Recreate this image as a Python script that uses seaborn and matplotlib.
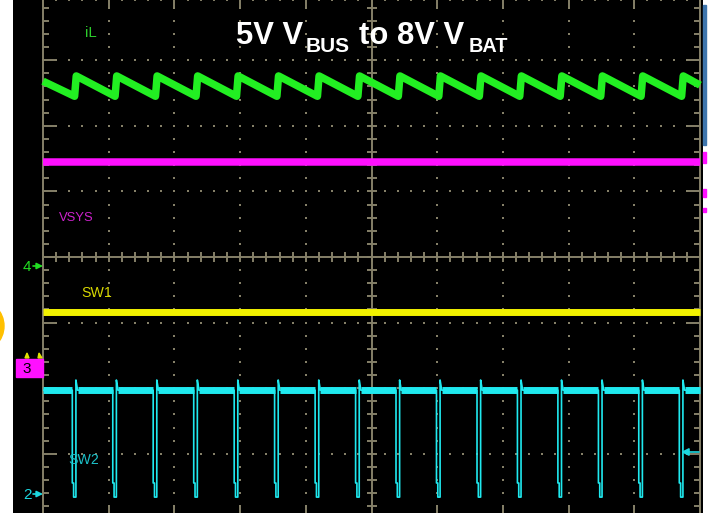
import numpy as np
import pandas as pd
import matplotlib
matplotlib.use("Agg")
import matplotlib.pyplot as plt
import seaborn as sns
from matplotlib.patches import Rectangle, Ellipse, Polygon

# ---------------- data (oscilloscope screen units: x 0..10 div, y -4..4 div) ----------------
# SW2 switching instants (start of each low pulse), time in divisions
sw_edges = [0.446, 1.062, 1.677, 2.294, 2.910, 3.525, 4.142, 4.758,
            5.373, 5.989, 6.606, 7.221, 7.837, 8.454, 9.068, 9.685]
trace_start, trace_end = 0.0, 10.0

# iL (green) sawtooth levels, divisions
il_start, il_valley, il_peak, il_end = 2.68, 2.45, 2.76, 2.62
# flat traces
vsys_level = 1.448
sw1_level = -0.838
# SW2 (cyan) levels
sw2_high, sw2_step, sw2_low, sw2_overshoot = -2.03, -3.445, -3.66, -1.875

channel_labels = ["iL", "VSYS", "SW1", "SW2"]
title_parts = ["5V V", "BUS", "to 8V V", "BAT"]

# ---------------- build trace tables ----------------
il_t, il_v = [trace_start], [il_start]
for e in sw_edges:
    il_t += [e + 0.035, e + 0.06]
    il_v += [il_valley, il_peak]
il_t.append(trace_end); il_v.append(il_end)
df_il = pd.DataFrame({"t": il_t, "v": il_v})

df_vsys = pd.DataFrame({"t": [trace_start, trace_end], "v": [vsys_level, vsys_level]})
df_sw1 = pd.DataFrame({"t": [trace_start, trace_end], "v": [sw1_level, sw1_level]})

sw2_t, sw2_v = [trace_start], [sw2_high]
for e in sw_edges:
    sw2_t += [e, e, e + 0.02, e + 0.02, e + 0.055, e + 0.055, e + 0.08]
    sw2_v += [sw2_high, sw2_step, sw2_step, sw2_low, sw2_low, sw2_overshoot, sw2_high]
sw2_t.append(trace_end); sw2_v.append(sw2_high)
df_sw2 = pd.DataFrame({"t": sw2_t, "v": sw2_v})

# thick noisy band of SW2 high level: segments between pulses
bt, bv, bu = [], [], []
starts = [trace_start] + [e + 0.08 for e in sw_edges]
ends = list(sw_edges) + [trace_end]
for i, (a, b) in enumerate(zip(starts, ends)):
    bt += [a, b]; bv += [sw2_high, sw2_high]; bu += [i, i]
df_sw2_band = pd.DataFrame({"t": bt, "v": bv, "seg": bu})

# ---------------- figure ----------------
W, H = 711, 513
fig = plt.figure(figsize=(W / 100, H / 100), dpi=100, facecolor="white")
ax_left, ax_right = 13, 703
ax = fig.add_axes([ax_left / W, 0, (ax_right - ax_left) / W, 1])
ax.set_facecolor("black")
px_per_x, px_per_y = 65.7, 65.6
x0_px, y0_px = 43, 257
ax.set_xlim((ax_left - x0_px) / px_per_x, (ax_right - x0_px) / px_per_x)
ax.set_ylim((y0_px - H) / px_per_y, y0_px / px_per_y)
for s in ax.spines.values():
    s.set_visible(False)
ax.set_xticks([]); ax.set_yticks([])

# ---------------- graticule ----------------
gcol = "#858068"
sub = np.arange(-20, 21) / 5.0
subx = np.arange(0, 51) / 5.0
lw_g = 1.4
ax.vlines([0, 10], -4, 4, color=gcol, lw=lw_g, zorder=1)
maj_y = np.isclose(sub % 1, 0)
len_y = np.where(maj_y, 14 / px_per_x, 6 / px_per_x)
ax.hlines(sub, 0, len_y, color=gcol, lw=lw_g, zorder=1)
ax.hlines(sub, 10 - len_y, 10, color=gcol, lw=lw_g, zorder=1)
maj_x = np.isclose(subx % 1, 0)
len_x = np.where(maj_x, 12 / px_per_y, 6 / px_per_y)
ax.vlines(subx, 4 - len_x, 4, color=gcol, lw=lw_g, zorder=1)
ax.vlines(subx, -4, -4 + len_x, color=gcol, lw=lw_g, zorder=1)
# centre cross
ax.vlines(5, -4, 4, color=gcol, lw=lw_g, zorder=1)
ax.hlines(0, 0, 10, color=gcol, lw=lw_g, zorder=1)
ax.hlines(sub, 5 - 5 / px_per_x, 5 + 5 / px_per_x, color=gcol, lw=lw_g, zorder=1)
ax.vlines(subx, -5 / px_per_y, 5 / px_per_y, color=gcol, lw=lw_g, zorder=1)
# dotted grid
dx, dy = [], []
for gx in [1, 2, 3, 4, 6, 7, 8, 9]:
    dx += [gx] * len(sub); dy += list(sub)
for gy in [-3, -2, -1, 1, 2, 3]:
    dx += list(subx); dy += [gy] * len(subx)
ax.scatter(dx, dy, s=2.0, marker="s", color=gcol, linewidths=0, zorder=1)

# ---------------- traces ----------------
c_il, c_vsys, c_sw1, c_sw2 = "#22ef22", "#ff10ff", "#f2f200", "#1fe9ef"
sns.lineplot(data=df_il, x="t", y="v", sort=False, estimator=None, color=c_il,
             linewidth=5.4, ax=ax, legend=False, zorder=3)
sns.lineplot(data=df_vsys, x="t", y="v", sort=False, estimator=None, color=c_vsys,
             linewidth=5.4, ax=ax, legend=False, zorder=3)
sns.lineplot(data=df_sw1, x="t", y="v", sort=False, estimator=None, color=c_sw1,
             linewidth=5.0, ax=ax, legend=False, zorder=3)
sns.lineplot(data=df_sw2, x="t", y="v", sort=False, estimator=None, color=c_sw2,
             linewidth=1.2, ax=ax, legend=False, zorder=3)
sns.lineplot(data=df_sw2_band, x="t", y="v", units="seg", sort=False, estimator=None,
             color=c_sw2, linewidth=5.0, ax=ax, legend=False, zorder=3)
ax.set_xlabel(""); ax.set_ylabel("")
for ln in ax.lines:
    ln.set_solid_capstyle("butt")


def fx(x):
    return x / W


def fy(y):
    return 1 - y / H


lab_font = ["Liberation Sans", "DejaVu Sans"]
lab_size = 10.2
fig.text(fx(85), fy(37), channel_labels[0], color="#2ccc2c", fontsize=lab_size + 0.6, family=lab_font, va="baseline")
fig.text(fx(59), fy(221), channel_labels[1], color="#cc22cc", fontsize=lab_size - 0.8, family=lab_font, va="baseline")
fig.text(fx(81), fy(297), channel_labels[2], color="#d8d800", fontsize=lab_size, family=lab_font, va="baseline")
fig.text(fx(68), fy(464), channel_labels[3], color="#1cc0c8", fontsize=lab_size, family=lab_font, va="baseline")

# title
tf = ["Liberation Sans", "DejaVu Sans"]
fig.text(fx(236), fy(44), title_parts[0], color="white", fontsize=22.3, weight="bold", family=tf, va="baseline")
fig.text(fx(306), fy(52), title_parts[1], color="white", fontsize=15, weight="bold", family=tf, va="baseline")
fig.text(fx(359), fy(44), title_parts[2], color="white", fontsize=22.3, weight="bold", family=tf, va="baseline")
fig.text(fx(469), fy(52), title_parts[3], color="white", fontsize=14.3, weight="bold", family=tf, va="baseline")


# channel position markers on the left
def marker_arrow(x1, x2, y, col, ms=9):
    ax.annotate("", xy=(x2, H - y), xytext=(x1, H - y), xycoords="figure pixels",
                textcoords="figure pixels", annotation_clip=False,
                arrowprops=dict(arrowstyle="-|>", color=col, lw=1.2, mutation_scale=ms,
                                shrinkA=0, shrinkB=0), zorder=6)


fig.text(fx(26.5), fy(267), "4", color="#22dd22", fontsize=11, family=lab_font, ha="center", va="center")
marker_arrow(33, 43, 266, "#22dd22")
fig.add_artist(Polygon([(fx(25), fy(358)), (fx(27), fy(353)), (fx(29), fy(358))], closed=True,
                       color="#e0e000", transform=fig.transFigure))
fig.add_artist(Polygon([(fx(38), fy(358)), (fx(39), fy(353)), (fx(42), fy(358))], closed=True,
                       color="#e0e000", transform=fig.transFigure))
fig.add_artist(Rectangle((fx(15.7), fy(377)), 27.6 / W, 18 / H, color="#ff10ff", transform=fig.transFigure))
fig.text(fx(26.5), fy(369), "3", color="black", fontsize=11, family=lab_font, ha="center", va="center", zorder=7)
marker_arrow(33, 43, 368, "black")
fig.text(fx(27), fy(495), "2", color="#1cd8e0", fontsize=11, family=lab_font, ha="center", va="center")
marker_arrow(33, 43, 494, "#1cd8e0")
# trigger level arrow on the right
marker_arrow(699, 681, 452, "#1cd8e0", ms=11)

# decorations outside the screen
fig.add_artist(Ellipse((fx(-22.5), fy(326)), 53 / W, 53 / H, color="#ffc000", transform=fig.transFigure))
fig.add_artist(Rectangle((fx(703), fy(145)), 3 / W, 140 / H, color="#3f76ad", transform=fig.transFigure))
for y1, y2 in [(152, 163), (189, 197), (208, 212)]:
    fig.add_artist(Rectangle((fx(703), fy(y2)), 3 / W, (y2 - y1) / H, color="#ff10ff",
                             transform=fig.transFigure))

fig.savefig("out.png", dpi=100, facecolor="white")
